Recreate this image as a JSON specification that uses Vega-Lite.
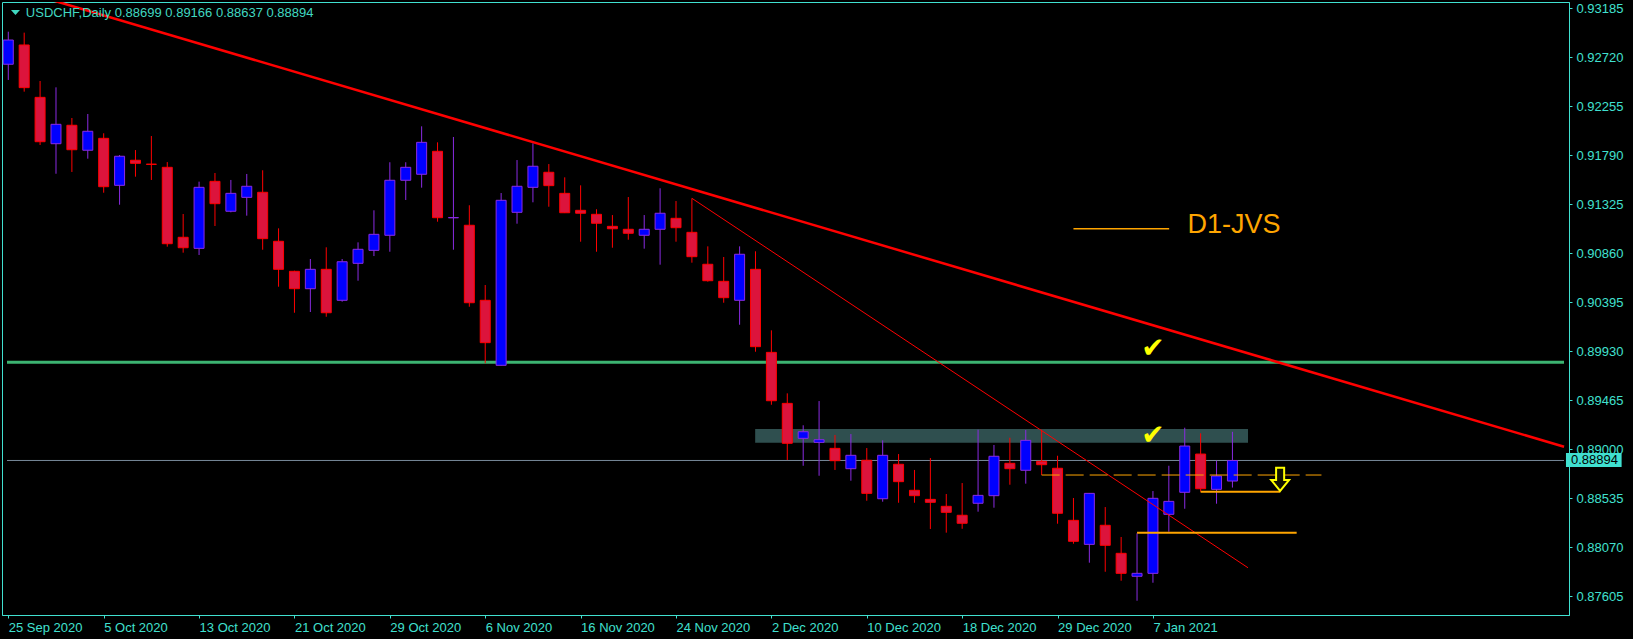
{
  "$schema": "https://vega.github.io/schema/vega-lite/v6.json",
  "width": 1567,
  "height": 613,
  "autosize": {"type": "none"},
  "padding": {"left": 2, "top": 2, "right": 64, "bottom": 24},
  "background": "#000000",
  "config": {
    "view": {"stroke": "#40E0D0", "strokeWidth": 1, "fill": "#000000"},
    "font": "Liberation Sans"
  },
  "datasets": {
    "candles": [
      {"i":0,"date":"2020-09-25","o":0.92654,"h":0.92963,"l":0.92505,"c":0.92884},
      {"i":1,"date":"2020-09-28","o":0.92837,"h":0.92954,"l":0.92394,"c":0.92432},
      {"i":2,"date":"2020-09-29","o":0.92340,"h":0.92495,"l":0.91888,"c":0.91919},
      {"i":3,"date":"2020-09-30","o":0.91900,"h":0.92435,"l":0.91615,"c":0.92084},
      {"i":4,"date":"2020-10-01","o":0.92075,"h":0.92144,"l":0.91632,"c":0.91843},
      {"i":5,"date":"2020-10-02","o":0.91838,"h":0.92182,"l":0.91758,"c":0.92018},
      {"i":6,"date":"2020-10-05","o":0.91951,"h":0.91999,"l":0.91435,"c":0.91492},
      {"i":7,"date":"2020-10-06","o":0.91505,"h":0.91793,"l":0.91321,"c":0.91781},
      {"i":8,"date":"2020-10-07","o":0.91743,"h":0.91840,"l":0.91587,"c":0.91714},
      {"i":9,"date":"2020-10-08","o":0.91706,"h":0.91973,"l":0.91556,"c":0.91704},
      {"i":10,"date":"2020-10-09","o":0.91676,"h":0.91726,"l":0.90923,"c":0.90951},
      {"i":11,"date":"2020-10-12","o":0.91012,"h":0.91233,"l":0.90866,"c":0.90913},
      {"i":12,"date":"2020-10-13","o":0.90907,"h":0.91540,"l":0.90844,"c":0.91486},
      {"i":13,"date":"2020-10-14","o":0.91543,"h":0.91622,"l":0.91119,"c":0.91331},
      {"i":14,"date":"2020-10-15","o":0.91259,"h":0.91556,"l":0.91249,"c":0.91429},
      {"i":15,"date":"2020-10-16","o":0.91391,"h":0.91613,"l":0.91217,"c":0.91496},
      {"i":16,"date":"2020-10-19","o":0.91439,"h":0.91648,"l":0.90894,"c":0.90999},
      {"i":17,"date":"2020-10-20","o":0.90974,"h":0.91097,"l":0.90543,"c":0.90708},
      {"i":18,"date":"2020-10-21","o":0.90689,"h":0.90695,"l":0.90296,"c":0.90524},
      {"i":19,"date":"2020-10-22","o":0.90524,"h":0.90806,"l":0.90303,"c":0.90708},
      {"i":20,"date":"2020-10-23","o":0.90708,"h":0.90917,"l":0.90258,"c":0.90296},
      {"i":21,"date":"2020-10-26","o":0.90414,"h":0.90806,"l":0.90401,"c":0.90780},
      {"i":22,"date":"2020-10-27","o":0.90765,"h":0.90964,"l":0.90600,"c":0.90898},
      {"i":23,"date":"2020-10-28","o":0.90888,"h":0.91268,"l":0.90834,"c":0.91040},
      {"i":24,"date":"2020-10-29","o":0.91031,"h":0.91724,"l":0.90875,"c":0.91553},
      {"i":25,"date":"2020-10-30","o":0.91553,"h":0.91724,"l":0.91366,"c":0.91676},
      {"i":26,"date":"2020-11-02","o":0.91610,"h":0.92065,"l":0.91483,"c":0.91913},
      {"i":27,"date":"2020-11-03","o":0.91828,"h":0.91913,"l":0.91160,"c":0.91198},
      {"i":28,"date":"2020-11-04","o":0.91197,"h":0.91964,"l":0.90894,"c":0.91199},
      {"i":29,"date":"2020-11-05","o":0.91126,"h":0.91316,"l":0.90353,"c":0.90391},
      {"i":30,"date":"2020-11-06","o":0.90414,"h":0.90559,"l":0.89816,"c":0.90012},
      {"i":31,"date":"2020-11-09","o":0.89797,"h":0.91432,"l":0.89795,"c":0.91363},
      {"i":32,"date":"2020-11-10","o":0.91249,"h":0.91745,"l":0.91141,"c":0.91496},
      {"i":33,"date":"2020-11-11","o":0.91486,"h":0.91904,"l":0.91344,"c":0.91686},
      {"i":34,"date":"2020-11-12","o":0.91629,"h":0.91707,"l":0.91302,"c":0.91502},
      {"i":35,"date":"2020-11-13","o":0.91429,"h":0.91581,"l":0.91242,"c":0.91245},
      {"i":36,"date":"2020-11-16","o":0.91268,"h":0.91505,"l":0.90970,"c":0.91240},
      {"i":37,"date":"2020-11-17","o":0.91230,"h":0.91278,"l":0.90875,"c":0.91145},
      {"i":38,"date":"2020-11-18","o":0.91116,"h":0.91223,"l":0.90913,"c":0.91093},
      {"i":39,"date":"2020-11-19","o":0.91088,"h":0.91394,"l":0.90989,"c":0.91050},
      {"i":40,"date":"2020-11-20","o":0.91031,"h":0.91223,"l":0.90904,"c":0.91088},
      {"i":41,"date":"2020-11-23","o":0.91088,"h":0.91477,"l":0.90752,"c":0.91240},
      {"i":42,"date":"2020-11-24","o":0.91192,"h":0.91356,"l":0.90970,"c":0.91103},
      {"i":43,"date":"2020-11-25","o":0.91059,"h":0.91382,"l":0.90771,"c":0.90828},
      {"i":44,"date":"2020-11-26","o":0.90756,"h":0.90926,"l":0.90591,"c":0.90600},
      {"i":45,"date":"2020-11-27","o":0.90594,"h":0.90825,"l":0.90391,"c":0.90439},
      {"i":46,"date":"2020-11-30","o":0.90414,"h":0.90926,"l":0.90182,"c":0.90851},
      {"i":47,"date":"2020-12-01","o":0.90708,"h":0.90879,"l":0.89926,"c":0.89974},
      {"i":48,"date":"2020-12-02","o":0.89920,"h":0.90129,"l":0.89423,"c":0.89461},
      {"i":49,"date":"2020-12-03","o":0.89436,"h":0.89531,"l":0.88898,"c":0.89057},
      {"i":50,"date":"2020-12-04","o":0.89104,"h":0.89228,"l":0.88844,"c":0.89167},
      {"i":51,"date":"2020-12-07","o":0.89066,"h":0.89458,"l":0.88749,"c":0.89091},
      {"i":52,"date":"2020-12-08","o":0.89009,"h":0.89136,"l":0.88804,"c":0.88892},
      {"i":53,"date":"2020-12-09","o":0.88816,"h":0.89145,"l":0.88702,"c":0.88943},
      {"i":54,"date":"2020-12-10","o":0.88896,"h":0.89012,"l":0.88512,"c":0.88582},
      {"i":55,"date":"2020-12-11","o":0.88531,"h":0.89085,"l":0.88503,"c":0.88943},
      {"i":56,"date":"2020-12-14","o":0.88858,"h":0.88955,"l":0.88493,"c":0.88693},
      {"i":57,"date":"2020-12-15","o":0.88611,"h":0.88804,"l":0.88493,"c":0.88560},
      {"i":58,"date":"2020-12-16","o":0.88525,"h":0.88917,"l":0.88244,"c":0.88497},
      {"i":59,"date":"2020-12-17","o":0.88459,"h":0.88576,"l":0.88209,"c":0.88402},
      {"i":60,"date":"2020-12-18","o":0.88374,"h":0.88680,"l":0.88246,"c":0.88298},
      {"i":61,"date":"2020-12-21","o":0.88488,"h":0.89186,"l":0.88408,"c":0.88563},
      {"i":62,"date":"2020-12-22","o":0.88560,"h":0.89041,"l":0.88446,"c":0.88934},
      {"i":63,"date":"2020-12-23","o":0.88867,"h":0.89110,"l":0.88664,"c":0.88816},
      {"i":64,"date":"2020-12-24","o":0.88801,"h":0.89183,"l":0.88674,"c":0.89085},
      {"i":65,"date":"2020-12-28","o":0.88886,"h":0.89186,"l":0.88756,"c":0.88854},
      {"i":66,"date":"2020-12-29","o":0.88820,"h":0.88939,"l":0.88294,"c":0.88393},
      {"i":67,"date":"2020-12-30","o":0.88326,"h":0.88538,"l":0.88104,"c":0.88127},
      {"i":68,"date":"2020-12-31","o":0.88098,"h":0.88585,"l":0.87924,"c":0.88582},
      {"i":69,"date":"2021-01-04","o":0.88279,"h":0.88452,"l":0.87838,"c":0.88089},
      {"i":70,"date":"2021-01-05","o":0.88013,"h":0.88168,"l":0.87753,"c":0.87823},
      {"i":71,"date":"2021-01-06","o":0.87795,"h":0.88203,"l":0.87563,"c":0.87823},
      {"i":72,"date":"2021-01-07","o":0.87823,"h":0.88604,"l":0.87734,"c":0.88535},
      {"i":73,"date":"2021-01-08","o":0.88383,"h":0.88844,"l":0.88218,"c":0.88506},
      {"i":74,"date":"2021-01-11","o":0.88592,"h":0.89205,"l":0.88436,"c":0.89031},
      {"i":75,"date":"2021-01-12","o":0.88955,"h":0.89152,"l":0.88598,"c":0.88626},
      {"i":76,"date":"2021-01-13","o":0.88620,"h":0.88892,"l":0.88484,"c":0.88747},
      {"i":77,"date":"2021-01-14","o":0.88699,"h":0.89166,"l":0.88637,"c":0.88894}
    ],
    "zone": [{"i": 46.98, "i2": 77.98, "p": 0.89193, "p2": 0.89063}],
    "levels": [
      {"name": "resistance", "i": -0.08125, "i2": 97.856, "p": 0.89826},
      {"name": "bid", "i": -0.08125, "i2": 97.856, "p": 0.88894}
    ],
    "segments": [
      {"name": "dash", "i": 65, "i2": 82.6, "p": 0.88756},
      {"name": "low", "i": 75, "i2": 80, "p": 0.88598},
      {"name": "base", "i": 71, "i2": 81.04, "p": 0.88209},
      {"name": "legend", "i": 67, "i2": 73.02, "p": 0.91093}
    ],
    "trend": [
      {"line": "major", "i": 0, "p": 0.93385},
      {"line": "major", "i": 97.86, "p": 0.89025},
      {"line": "minor", "i": 43, "p": 0.91382},
      {"line": "minor", "i": 77.98, "p": 0.87876}
    ],
    "labels": [{"label": "D1-JVS", "i": 74.17, "p": 0.91050}],
    "checks": [
      {"label": "✔", "i": 72, "p": 0.89948},
      {"label": "✔", "i": 72, "p": 0.89123}
    ],
    "arrow": [{"i": 80, "p": 0.88715}],
    "tag": [{"i": 97.98, "i2": 101.48, "p": 0.88965, "p2": 0.88832}],
    "tagtext": [{"label": "0.88894", "i": 98.29, "p": 0.88894}],
    "symbol": [{"i": 0.45, "p": 0.93145}],
    "header": [{"label": "USDCHF,Daily  0.88699 0.89166 0.88637 0.88894", "i": 1.106, "p": 0.93105}]
  },
  "encoding": {
    "x": {
      "field": "i", "type": "quantitative",
      "scale": {"domain": [-0.08125, 97.856], "nice": false, "zero": false},
      "axis": {
        "values": [0, 6, 12, 18, 24, 30, 36, 42, 48, 54, 60, 66, 72],
        "labelExpr": "['25 Sep 2020','5 Oct 2020','13 Oct 2020','21 Oct 2020','29 Oct 2020','6 Nov 2020','16 Nov 2020','24 Nov 2020','2 Dec 2020','10 Dec 2020','18 Dec 2020','29 Dec 2020','7 Jan 2021'][round(datum.value/6)]",
        "title": null, "grid": false,
        "domainColor": "#40E0D0", "tickColor": "#40E0D0", "tickSize": 3,
        "labelColor": "#40E0D0", "labelFont": "Liberation Sans", "labelFontSize": 13,
        "labelAlign": "left", "labelFlush": false, "labelOverlap": false,
        "labelPadding": 3, "labelBaseline": "top"
      }
    },
    "y": {
      "field": "p", "type": "quantitative",
      "scale": {"domain": [0.874277, 0.932448], "nice": false, "zero": false},
      "axis": {
        "orient": "right",
        "values": [0.93185, 0.9272, 0.92255, 0.9179, 0.91325, 0.9086, 0.90395, 0.8993, 0.89465, 0.89, 0.88535, 0.8807, 0.87605],
        "format": ".5f",
        "title": null, "grid": false,
        "domainColor": "#40E0D0", "tickColor": "#40E0D0", "tickSize": 3,
        "labelColor": "#40E0D0", "labelFont": "Liberation Sans", "labelFontSize": 13,
        "labelPadding": 4, "labelOverlap": false, "labelFlush": false
      }
    }
  },
  "layer": [
    {
      "data": {"name": "zone"},
      "mark": {"type": "rect", "color": "#2F4F4F"},
      "encoding": {"x2": {"field": "i2"}, "y2": {"field": "p2"}}
    },
    {
      "data": {"name": "levels"},
      "transform": [{"filter": "datum.name === 'resistance'"}],
      "mark": {"type": "rule", "color": "#3CB371", "strokeWidth": 3},
      "encoding": {"x2": {"field": "i2"}}
    },
    {
      "data": {"name": "levels"},
      "transform": [{"filter": "datum.name === 'bid'"}],
      "mark": {"type": "rule", "color": "#778899", "strokeWidth": 1},
      "encoding": {"x2": {"field": "i2"}}
    },
    {
      "data": {"name": "candles"},
      "mark": {"type": "rule", "strokeWidth": 1},
      "encoding": {
        "y": {
          "field": "l", "type": "quantitative",
          "scale": {"domain": [0.874277, 0.932448], "nice": false, "zero": false},
          "axis": {
            "orient": "right",
            "values": [0.93185, 0.9272, 0.92255, 0.9179, 0.91325, 0.9086, 0.90395, 0.8993, 0.89465, 0.89, 0.88535, 0.8807, 0.87605],
            "format": ".5f",
            "title": null, "grid": false,
            "domainColor": "#40E0D0", "tickColor": "#40E0D0", "tickSize": 3,
            "labelColor": "#40E0D0", "labelFont": "Liberation Sans", "labelFontSize": 13,
            "labelPadding": 4, "labelOverlap": false, "labelFlush": false
          }
        },
        "y2": {"field": "h"},
        "color": {"condition": {"test": "datum.c >= datum.o", "value": "#8A2BE2"}, "value": "#FF0000"}
      }
    },
    {
      "data": {"name": "candles"},
      "mark": {"type": "bar", "width": 10, "strokeWidth": 1},
      "encoding": {
        "y": {
          "field": "o", "type": "quantitative",
          "scale": {"domain": [0.874277, 0.932448], "nice": false, "zero": false},
          "axis": {
            "orient": "right",
            "values": [0.93185, 0.9272, 0.92255, 0.9179, 0.91325, 0.9086, 0.90395, 0.8993, 0.89465, 0.89, 0.88535, 0.8807, 0.87605],
            "format": ".5f",
            "title": null, "grid": false,
            "domainColor": "#40E0D0", "tickColor": "#40E0D0", "tickSize": 3,
            "labelColor": "#40E0D0", "labelFont": "Liberation Sans", "labelFontSize": 13,
            "labelPadding": 4, "labelOverlap": false, "labelFlush": false
          }
        },
        "y2": {"field": "c"},
        "fill": {"condition": {"test": "datum.c >= datum.o", "value": "#0000FF"}, "value": "#DC143C"},
        "stroke": {"condition": {"test": "datum.c >= datum.o", "value": "#8A2BE2"}, "value": "#FF0000"}
      }
    },
    {
      "data": {"name": "trend"},
      "transform": [{"filter": "datum.line === 'minor'"}],
      "mark": {"type": "line", "color": "#FF0000", "strokeWidth": 1},
      "encoding": {}
    },
    {
      "data": {"name": "trend"},
      "transform": [{"filter": "datum.line === 'major'"}],
      "mark": {"type": "line", "color": "#FF0000", "strokeWidth": 2.5, "clip": true},
      "encoding": {}
    },
    {
      "data": {"name": "segments"},
      "transform": [{"filter": "datum.name === 'dash'"}],
      "mark": {"type": "rule", "color": "#FFA500", "strokeWidth": 1, "strokeDash": [18, 6]},
      "encoding": {"x2": {"field": "i2"}}
    },
    {
      "data": {"name": "segments"},
      "transform": [{"filter": "datum.name === 'low' || datum.name === 'base'"}],
      "mark": {"type": "rule", "color": "#FFA500", "strokeWidth": 2},
      "encoding": {"x2": {"field": "i2"}}
    },
    {
      "data": {"name": "segments"},
      "transform": [{"filter": "datum.name === 'legend'"}],
      "mark": {"type": "rule", "color": "#FFA500", "strokeWidth": 1.5},
      "encoding": {"x2": {"field": "i2"}}
    },
    {
      "data": {"name": "labels"},
      "mark": {"type": "text", "color": "#FFA500", "font": "Liberation Sans", "fontSize": 27, "align": "left", "baseline": "alphabetic"},
      "encoding": {"text": {"field": "label"}}
    },
    {
      "data": {"name": "checks"},
      "mark": {"type": "text", "color": "#FFFF00", "font": "DejaVu Sans", "fontSize": 28, "align": "center", "baseline": "middle"},
      "encoding": {"text": {"field": "label"}}
    },
    {
      "data": {"name": "arrow"},
      "mark": {"type": "point", "shape": "M-0.35,-1L0.35,-1L0.35,0.05L0.78,0.05L0,1L-0.78,0.05L-0.35,0.05Z", "size": 529, "filled": true, "fill": "#111100", "stroke": "#FFFF00", "strokeWidth": 2, "opacity": 1},
      "encoding": {}
    },
    {
      "data": {"name": "tag"},
      "mark": {"type": "rect", "color": "#40E0D0"},
      "encoding": {"x2": {"field": "i2"}, "y2": {"field": "p2"}}
    },
    {
      "data": {"name": "tagtext"},
      "mark": {"type": "text", "color": "#000000", "font": "Liberation Sans", "fontSize": 13, "align": "left", "baseline": "middle"},
      "encoding": {"text": {"field": "label"}}
    },
    {
      "data": {"name": "symbol"},
      "mark": {"type": "point", "shape": "M-1,-0.55L1,-0.55L0,0.55Z", "size": 81, "filled": true, "color": "#40D8C0", "opacity": 1},
      "encoding": {}
    },
    {
      "data": {"name": "header"},
      "mark": {"type": "text", "color": "#40D8C0", "font": "Liberation Sans", "fontSize": 13, "align": "left", "baseline": "alphabetic"},
      "encoding": {"text": {"field": "label"}}
    }
  ]
}
